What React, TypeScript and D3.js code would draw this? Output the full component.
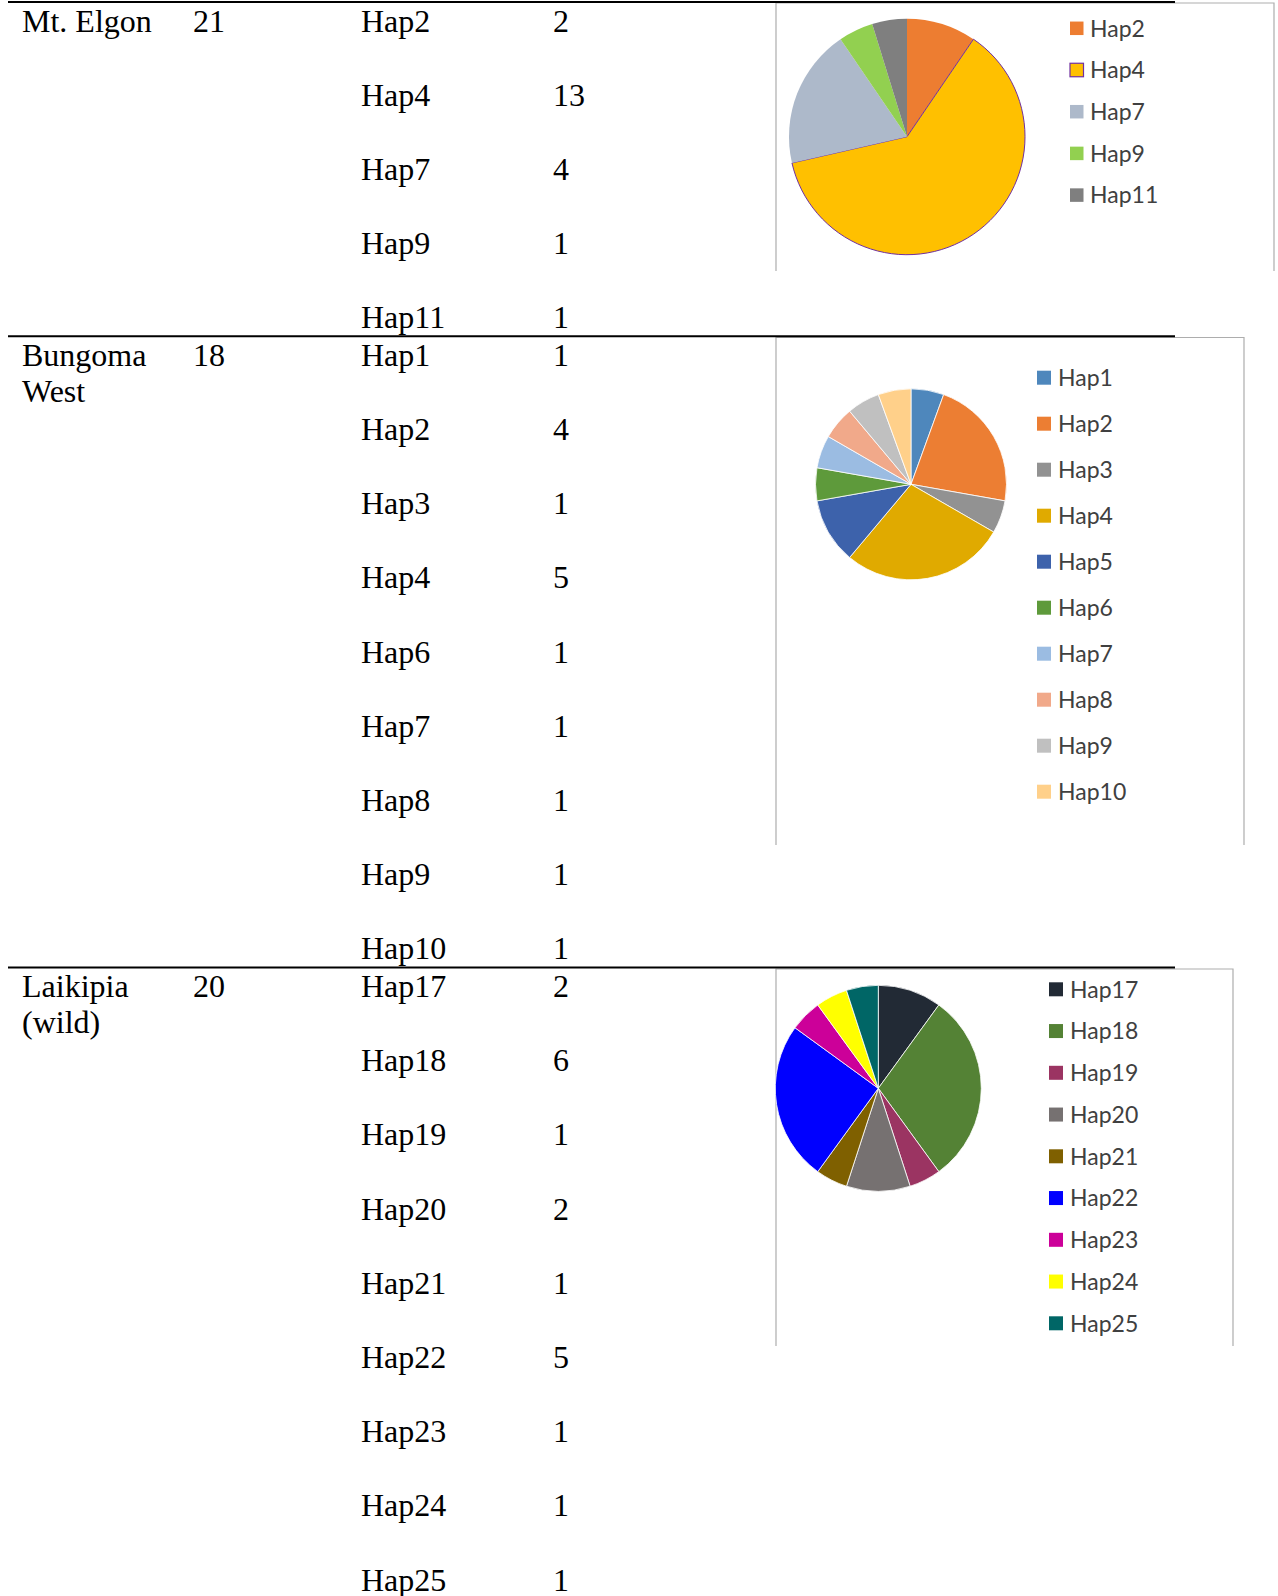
import React from "react";
import * as d3 from "d3";

// ---- Data ----
const siteNames: string[][] = [["Mt. Elgon"], ["Bungoma", "West"], ["Laikipia", "(wild)"]];
const sampleSizes: number[] = [21, 18, 20];

const tableHaps: string[][] = [
  ["Hap2", "Hap4", "Hap7", "Hap9", "Hap11"],
  ["Hap1", "Hap2", "Hap3", "Hap4", "Hap6", "Hap7", "Hap8", "Hap9", "Hap10"],
  ["Hap17", "Hap18", "Hap19", "Hap20", "Hap21", "Hap22", "Hap23", "Hap24", "Hap25"],
];
const tableCounts: number[][] = [
  [2, 13, 4, 1, 1],
  [1, 4, 1, 5, 1, 1, 1, 1, 1],
  [2, 6, 1, 2, 1, 5, 1, 1, 1],
];

const pieHaps: string[][] = [
  ["Hap2", "Hap4", "Hap7", "Hap9", "Hap11"],
  ["Hap1", "Hap2", "Hap3", "Hap4", "Hap5", "Hap6", "Hap7", "Hap8", "Hap9", "Hap10"],
  ["Hap17", "Hap18", "Hap19", "Hap20", "Hap21", "Hap22", "Hap23", "Hap24", "Hap25"],
];
const pieValues: number[][] = [
  [2, 13, 4, 1, 1],
  [1, 4, 1, 5, 2, 1, 1, 1, 1, 1],
  [2, 6, 1, 2, 1, 5, 1, 1, 1],
];
const pieColors: string[][] = [
  ["#ED7D31", "#FFC000", "#ADB9CA", "#92D050", "#7F7F7F"],
  ["#4E87BC", "#EC7E33", "#929292", "#E0AA00", "#3D62AB", "#5E9A3B", "#9BBCE2", "#F1A98A", "#C0C0C0", "#FFD08A"],
  ["#222A35", "#548235", "#9B3462", "#767171", "#7F6000", "#0000FF", "#CC0099", "#FFFF00", "#006666"],
];

// ---- Layout ----
const W = 1278;
const H = 1596;
const ROW = 74.2;
const FIRST = 29.5;
const AFTER = 8;
const colSite = 22;
const colN = 193;
const colHap = 361;
const colCount = 553;
const lineX0 = 8;
const lineX1 = 1175;

const chartLayouts = [
  { fx0: 776, fx1: 1274, fy0: 3, fy1: 271, cx: 907, cy: 136.7, r: 118, lx: 1070, tx: 1090, ly0: 28.3, ldy: 41.7, sq: 13.5 },
  { fx0: 776, fx1: 1244, fy0: 337.5, fy1: 845, cx: 911, cy: 484.3, r: 95.5, lx: 1037, tx: 1058, ly0: 377.7, ldy: 46, sq: 14 },
  { fx0: 776, fx1: 1233, fy0: 969, fy1: 1346, cx: 878.3, cy: 1088.3, r: 103, lx: 1049, tx: 1070, ly0: 989.3, ldy: 41.75, sq: 14 },
];

export default function App() {
  const lines: number[] = [2];
  const firstBaselines: number[] = [];
  tableHaps.forEach((haps, g) => {
    const fb = lines[g] + FIRST;
    firstBaselines.push(fb);
    lines.push(fb + (haps.length - 1) * ROW + AFTER);
  });
  const tableLines = lines.slice(0, 3);

  const serif = "'Liberation Serif', 'Times New Roman', serif";
  const sans = "Lato, Carlito, Calibri, 'Open Sans', sans-serif";

  return (
    <svg
      width={W}
      height={H}
      style={{ position: "absolute", left: 0, top: 0, background: "#fff" }}
      xmlns="http://www.w3.org/2000/svg"
    >
      <rect x={0} y={0} width={W} height={H} fill="#fff" />
      {chartLayouts.map((c, ci) => {
        const pie = d3.pie<number>().sort(null).value((d) => d);
        const arcs = pie(pieValues[ci]);
        const arc = d3.arc<d3.PieArcDatum<number>>().innerRadius(0).outerRadius(c.r);
        return (
          <g key={"chart" + ci}>
            <path
              d={`M${c.fx0},${c.fy1} L${c.fx0},${c.fy0} L${c.fx1},${c.fy0} L${c.fx1},${c.fy1}`}
              fill="none"
              stroke="#ADADAD"
              strokeWidth={1.2}
            />
            <g transform={`translate(${c.cx},${c.cy})`}>
              {arcs.map((a, i) => (
                <path
                  key={i}
                  d={arc(a) || ""}
                  fill={pieColors[ci][i]}
                  stroke={ci === 0 ? (pieHaps[ci][i] === "Hap4" ? "#7030A0" : "none") : "#ffffff"}
                  strokeWidth={ci === 0 ? 1 : 0.8}
                  strokeLinejoin="round"
                />
              ))}
            </g>
            {pieHaps[ci].map((h, i) => {
              const y = c.ly0 + i * c.ldy;
              const outlined = ci === 0 && h === "Hap4";
              return (
                <g key={"lg" + i}>
                  <rect
                    x={c.lx}
                    y={y - c.sq / 2}
                    width={c.sq}
                    height={c.sq}
                    fill={pieColors[ci][i]}
                    stroke={outlined ? "#7030A0" : "none"}
                    strokeWidth={outlined ? 1.2 : 0}
                  />
                  <text x={c.tx} y={y} dy="0.36em" fontFamily={sans} fontSize={23} fill="#404040">
                    {h}
                  </text>
                </g>
              );
            })}
          </g>
        );
      })}

      {tableLines.map((ly, i) => (
        <line key={"ln" + i} x1={lineX0} x2={lineX1} y1={ly} y2={ly} stroke="#000" strokeWidth={2} />
      ))}

      {tableHaps.map((haps, g) => {
        const fb = firstBaselines[g];
        return (
          <g key={"grp" + g} fontFamily={serif} fontSize={32} fill="#000">
            {siteNames[g].map((s, k) => (
              <text key={"s" + k} x={colSite} y={fb + k * 36}>
                {s}
              </text>
            ))}
            <text x={colN} y={fb}>
              {sampleSizes[g]}
            </text>
            {haps.map((h, i) => (
              <g key={"r" + i}>
                <text x={colHap} y={fb + i * ROW}>
                  {h}
                </text>
                <text x={colCount} y={fb + i * ROW}>
                  {tableCounts[g][i]}
                </text>
              </g>
            ))}
          </g>
        );
      })}
    </svg>
  );
}
